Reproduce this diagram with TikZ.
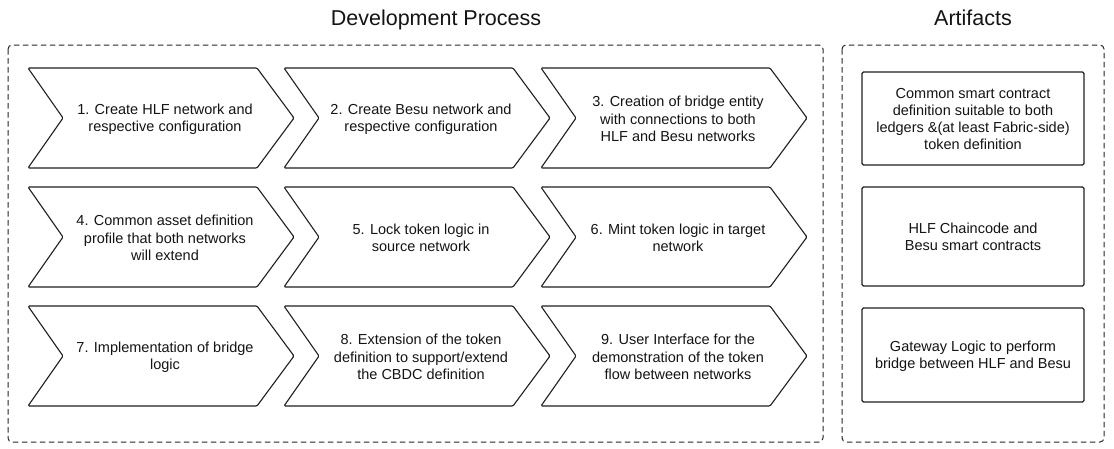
\documentclass[tikz,border=0pt]{standalone}
\usepackage{fontspec}
\setmainfont{Liberation Sans}
\begin{document}
\begin{tikzpicture}[x=1pt,y=-1pt,
  chev/.style={draw=black!88,line width=1.1pt,rounded corners=1.2pt,fill=white},
  chevtext/.style={align=center,font=\fontsize{14.5}{17.3}\selectfont,text=black!92,inner sep=0pt},
  artbox/.style={draw=black!88,line width=1.1pt,rounded corners=1.5pt,fill=white},
  group/.style={draw=black!85,line width=1pt,dash pattern=on 5.5pt off 3.5pt,rounded corners=4pt},
  titletext/.style={font=\fontsize{21.5}{24}\selectfont,text=black!92,inner sep=0pt,anchor=base}
]
\useasboundingbox[fill=white] (0,0) rectangle (1114,448);
% group boxes
\draw[group] (8,45) rectangle (823,442);
\draw[group] (842,45) rectangle (1104,442);
\node[titletext] (t1) at (436,25) {Development Process};
\node[titletext] (t2) at (973,25) {Artifacts};
% chevrons
\newcommand{\chevron}[4]{% #1 L, #2 T, #3 name, #4 text
  \draw[chev] (#1,#2) -- ({#1+229},#2) -- ({#1+266},{#2+50}) -- ({#1+229},{#2+100}) -- (#1,{#2+100}) -- ({#1+35},{#2+50}) -- cycle;
  \node[chevtext] (#3) at ({#1+137},{#2+51}) {#4};
}
\chevron{28}{68}{c1}{1. Create HLF network and\\respective configuration}
\chevron{284}{68}{c2}{2. Create Besu network and\\respective configuration}
\chevron{541}{68}{c3}{3. Creation of bridge entity\\with connections to both\\HLF and Besu networks}
\chevron{28}{187}{c4}{4. Common asset definition\\profile that both networks\\will extend}
\chevron{284}{187}{c5}{5. Lock token logic in\\source network}
\chevron{541}{187}{c6}{6. Mint token logic in target\\network}
\chevron{28}{306}{c7}{7. Implementation of bridge\\logic}
\chevron{284}{306}{c8}{8. Extension of the token\\definition to support/extend\\the CBDC definition}
\chevron{541}{306}{c9}{9. User Interface for the\\demonstration of the token\\flow between networks}
% artifacts
\draw[artbox] (862,72) rectangle (1084,165);
\node[chevtext] (a1) at (973,119) {Common smart contract\\definition suitable to both\\ledgers \&(at least Fabric-side)\\token definition};
\draw[artbox] (862,187) rectangle (1084,286);
\node[chevtext] (a2) at (973,237) {HLF Chaincode and\\Besu smart contracts};
\draw[artbox] (862,308) rectangle (1084,402);
\node[chevtext] (a3) at (973,356) {Gateway Logic to perform\\bridge between HLF and Besu};
\end{tikzpicture}
\end{document}
